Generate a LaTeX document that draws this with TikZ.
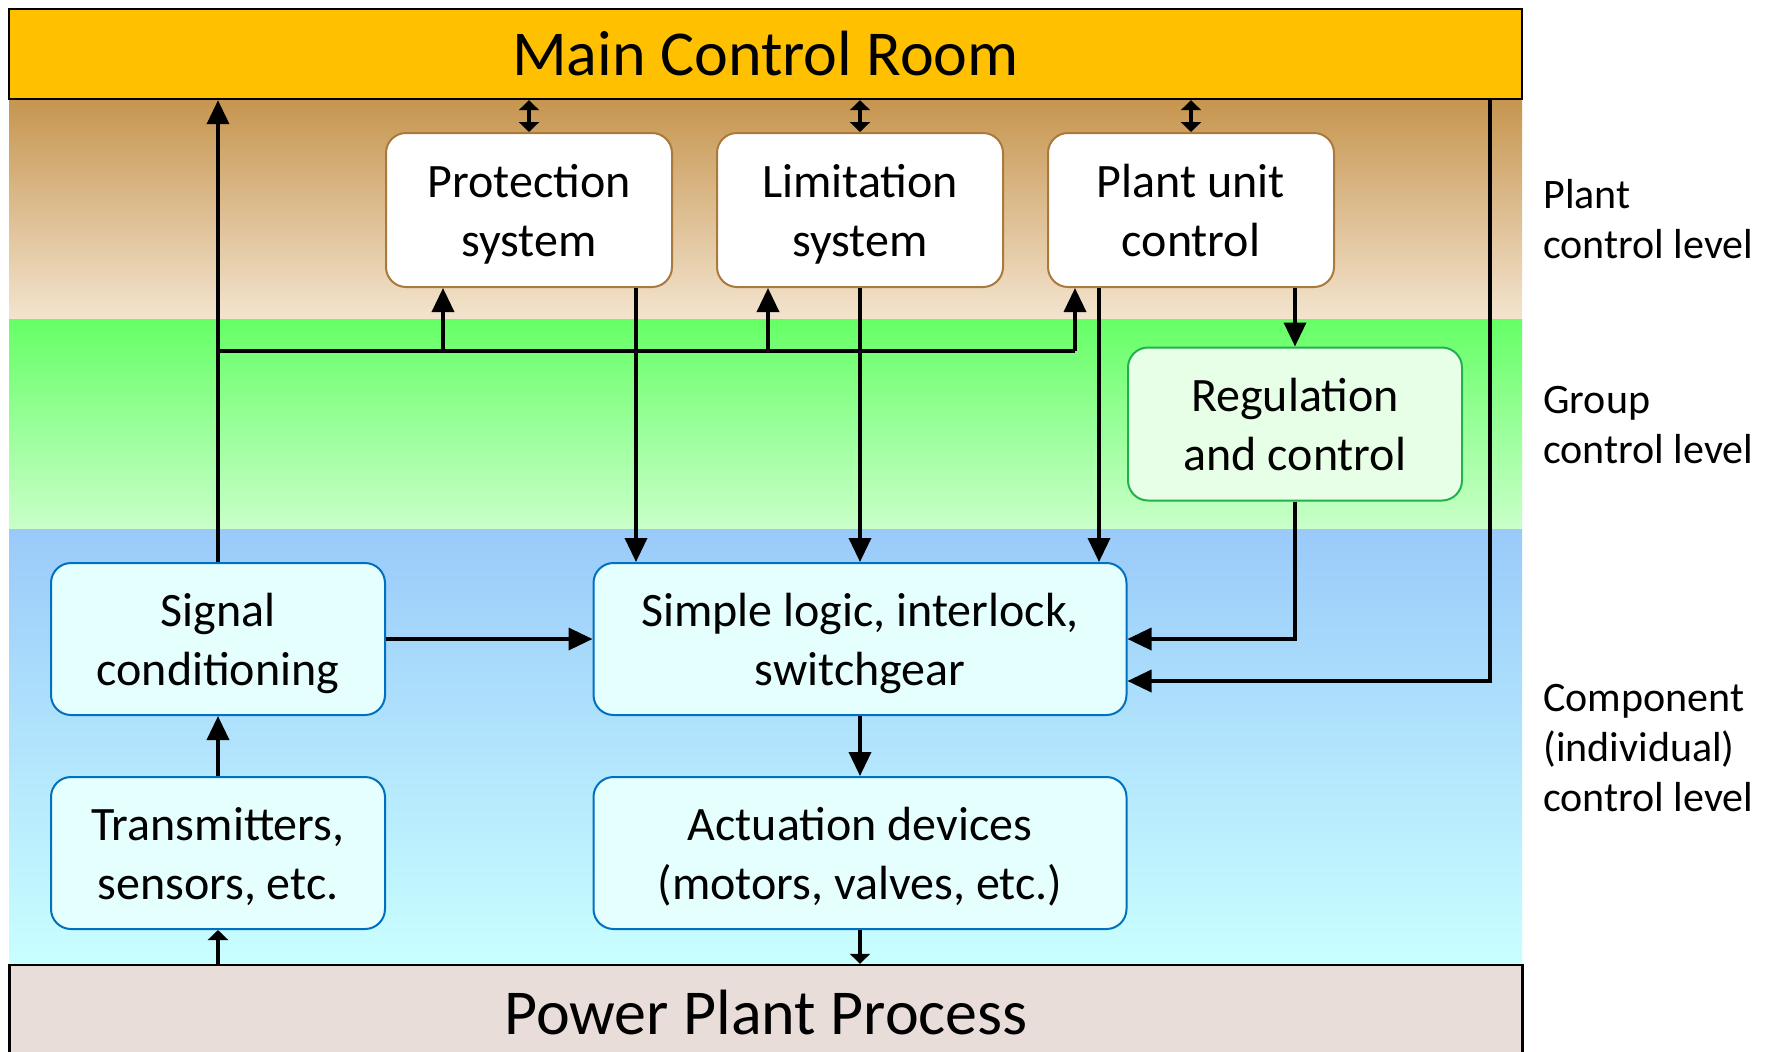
\documentclass[tikz,border=0pt]{standalone}
\usepackage{fontspec}
\setmainfont{Carlito}
\usetikzlibrary{arrows.meta}
\definecolor{orangebar}{HTML}{FFC000}
\definecolor{tantop}{HTML}{C6954F}
\definecolor{tanbot}{HTML}{F3E4CF}
\definecolor{greentop}{HTML}{66FF66}
\definecolor{greenbot}{HTML}{C9FFC9}
\definecolor{bluetop}{HTML}{9ACAFA}
\definecolor{bluebot}{HTML}{C9FFFF}
\definecolor{procfill}{HTML}{E8DDD9}
\definecolor{tanedge}{HTML}{A97A3C}
\definecolor{greenedge}{HTML}{22B14C}
\definecolor{greenfill}{HTML}{E6FFE6}
\definecolor{blueedge}{HTML}{0070C0}
\definecolor{bluefill}{HTML}{E5FFFF}
\newcommand{\twol}[2]{\rule{0pt}{25.4pt}#1\\#2\strut}
\tikzset{
  boxbase/.style={rounded corners=10pt, line width=1pt, align=center, inner sep=0pt,
    font=\fontsize{24}{29.5}\selectfont},
  tanbox/.style={boxbase, draw=tanedge, fill=white, minimum width=143pt, minimum height=77pt},
  greenbox/.style={boxbase, draw=greenedge, fill=greenfill, minimum width=167pt, minimum height=76.5pt},
  bluebox/.style={boxbase, draw=blueedge, fill=bluefill, minimum width=167pt, minimum height=76pt},
  widebox/.style={bluebox, minimum width=266.5pt},
  bar/.style={draw=black, line width=1.2pt, minimum width=756.5pt, minimum height=45pt, inner sep=0pt,
    font=\fontsize{32}{36}\selectfont},
  levellabel/.style={anchor=west, align=left, inner sep=0pt, font=\fontsize{21}{25}\selectfont},
  ln/.style={line width=1.8pt},
  arr/.style={ln, -{Triangle[length=12pt,width=11pt]}},
  darr/.style={ln, {Triangle[length=5pt,width=10pt]}-{Triangle[length=5pt,width=10pt]}},
  sarr/.style={ln, -{Triangle[length=5pt,width=10pt]}}
}
\begin{document}
\begin{tikzpicture}[x=0.5pt,y=-0.5pt]
\useasboundingbox (0,0) rectangle (1769,1051);
% level bands
\fill[top color=tantop, bottom color=tanbot] (9,99) rectangle (1522,319);
\fill[top color=greentop, bottom color=greenbot] (9,319) rectangle (1522,529);
\fill[top color=bluetop, bottom color=bluebot] (9,529) rectangle (1522,965);
% bars
\node[bar, fill=orangebar] (main) at (765.5,54) {Main Control Room};
\node[bar, fill=procfill, minimum height=50pt] (proc) at (766,1015) {\raisebox{2.5pt}{Power Plant Process}};
% boxes
\node[tanbox] (prot) at (529,210) {\twol{Protection}{system}};
\node[tanbox] (lim) at (860,210) {\twol{Limitation}{system}};
\node[tanbox] (plant) at (1191,210) {\twol{Plant unit}{control}};
\node[greenbox] (reg) at (1295,424) {\twol{Regulation}{and control}};
\node[bluebox] (sig) at (218,639) {\twol{Signal}{conditioning}};
\node[widebox] (logic) at (860,639) {\twol{Simple logic, interlock,}{switchgear}};
\node[bluebox] (trans) at (218,853) {\twol{Transmitters,}{sensors, etc.}};
\node[widebox] (act) at (860,853) {\twol{Actuation devices}{(motors, valves, etc.)}};
% level labels
\node[levellabel] (lplant) at (1543,219) {Plant\\control level};
\node[levellabel] (lgroup) at (1543,425) {Group\\control level};
\node[levellabel] (lcomp) at (1543,748) {Component\\(individual)\\control level};
% coordinates
\coordinate (bus) at (218,351);
\coordinate (b1) at (443,351);
\coordinate (b2) at (768,351);
\coordinate (b3) at (1075,351);
\coordinate (pd) at (636,0);
\coordinate (pu) at (1099,0);
\coordinate (mr) at (1490,681);
% double arrows main <-> top boxes
\draw[darr] (main.south -| prot.north) -- (prot.north);
\draw[darr] (main.south -| lim.north) -- (lim.north);
\draw[darr] (main.south -| plant.north) -- (plant.north);
% signal conditioning up to main and bus
\draw[arr] (sig.north) -- (sig.north |- main.south);
\draw[ln] (bus) -- (b3);
\draw[arr] (b1) -- (b1 |- prot.south);
\draw[arr] (b2) -- (b2 |- lim.south);
\draw[arr] (b3) -- (b3 |- plant.south);
% top boxes down to logic
\draw[arr] (prot.south -| pd) -- (logic.north -| pd);
\draw[arr] (lim.south) -- (logic.north);
\draw[arr] (plant.south -| pu) -- (logic.north -| pu);
\draw[arr] (plant.south -| reg.north) -- (reg.north);
\draw[arr] (reg.south) |- (logic.east);
\draw[arr] (mr |- main.south) -- (mr) -- (mr -| logic.east);
% component level
\draw[arr] (sig.east) -- (logic.west);
\draw[arr] (trans.north) -- (sig.south);
\draw[arr] (logic.south) -- (act.north);
\draw[sarr] (proc.north -| trans.south) -- (trans.south);
\draw[sarr] (act.south) -- (act.south |- proc.north);
\end{tikzpicture}
\end{document}
